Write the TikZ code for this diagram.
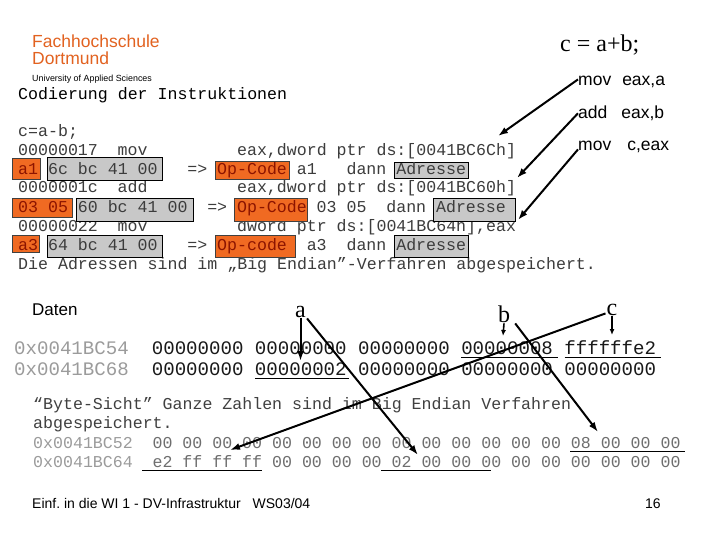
\documentclass[tikz,border=0pt]{standalone}
\usepackage{fontspec}
\setmainfont{Liberation Sans}
\newfontfamily\arial{Liberation Sans}
\newfontfamily\mono{Liberation Mono}
\newfontfamily\tms{Liberation Serif}
\usetikzlibrary{arrows.meta}
\definecolor{fhorange}{RGB}{226,98,32}
\definecolor{boxorange}{RGB}{240,106,34}
\definecolor{boxgray}{RGB}{200,200,200}
\definecolor{codec}{RGB}{60,60,60}
\definecolor{optext}{RGB}{140,20,0}
\definecolor{addrgray}{RGB}{155,155,155}
\definecolor{bytegray}{RGB}{110,110,110}
\def\cwa{9.95}
\def\mcw{11.47}
\frenchspacing
\begin{document}
\begin{tikzpicture}[x=1pt,y=-1pt,
  code/.style={anchor=base west, inner sep=0pt, text=codec, font=\mono\fontsize{16.6}{18}\selectfont},
  mem/.style={anchor=base west, inner sep=0pt, font=\mono\fontsize{19.1}{21}\selectfont},
  sans/.style={anchor=base west, inner sep=0pt},
  lbl/.style={anchor=base, inner sep=1pt, font=\tms\fontsize{24}{26}\selectfont},
  arr/.style={line width=2pt, -{Latex[length=10pt,width=7pt]}},
  sarr/.style={line width=1.6pt, -{Latex[length=6pt,width=5pt]}},
  obox/.style={fill=boxorange, draw=black!75, line width=0.8pt},
  gbox/.style={fill=boxgray, draw=black, line width=0.8pt},
  uline/.style={line width=1.2pt}]
\path[use as bounding box, fill=white] (0,0) rectangle (720,540);

% header
\node[sans, text=fhorange, font=\arial\fontsize{17.5}{18}\selectfont] (fh1) at (32,48) {Fachhochschule};
\node[sans, text=fhorange, font=\arial\fontsize{17.5}{18}\selectfont] (fh2) at (32,65) {Dortmund};
\node[sans, font=\arial\fontsize{8.9}{10}\selectfont] (uas) at (32,81.5) {University of Applied Sciences};
\node[anchor=base west, inner sep=0pt, font=\tms\fontsize{24}{26}\selectfont] (eq) at (560,52) {c = a+b;};
\node[sans, font=\arial\fontsize{17.5}{18}\selectfont] (r1) at (578,86) {mov\hspace{11pt}eax,a};
\node[sans, font=\arial\fontsize{17.5}{18}\selectfont] (r2) at (578,118.5) {add\hspace{14pt}eax,b};
\node[sans, font=\arial\fontsize{17.5}{18}\selectfont] (r3) at (578,151) {mov\hspace{16pt}c,eax};

% code lines
\node[code, text=black] (hd) at (18,100) {Codierung der Instruktionen};
\node[code] (l0) at (18,137) {c=a-b;};
\node[code] (l1a) at (18,156) {00000017};
\node[code] (l1b) at ({18+10*\cwa},156) {mov};
\node[code] (l1c) at ({18+22*\cwa},156) {eax,dword ptr ds:[0041BC6Ch]};
\node[code] (l2a) at (18,193) {0000001c};
\node[code] (l2b) at ({18+10*\cwa},193) {add};
\node[code] (l2c) at ({18+22*\cwa},193) {eax,dword ptr ds:[0041BC60h]};
\node[code] (l3a) at (18,231) {00000022};
\node[code] (l3b) at ({18+10*\cwa},231) {mov};
\node[code] (l3c) at ({18+22*\cwa},231) {dword ptr ds:[0041BC64h],eax};
\node[code] (l4) at (18,269) {Die Adressen sind im „Big Endian”-Verfahren abgespeichert.};

% row 1
\path[obox] (12,158) rectangle (40,179);
\path[gbox] (47,157) rectangle (162,180);
\path[obox] (215,161) rectangle (289,179);
\path[gbox] (394,162) rectangle (468,178);
\node[code, text=optext] (a1a) at (18,175) {a1};
\node[code] (a1b) at ({18+3*\cwa},175) {6c bc 41 00};
\node[code] (a1c) at ({18+17*\cwa},175) {=>};
\node[code, text=optext] (a1d) at ({18+20*\cwa},175) {Op-Code};
\node[code] (a1e) at ({18+28*\cwa},175) {a1};
\node[code] (a1f) at ({18+33*\cwa},175) {dann};
\node[code] (a1g) at ({18+38*\cwa},175) {Adresse};

% row 2
\path[obox] (12,198) rectangle (72,217);
\path[gbox] (76,198) rectangle (193,221);
\path[obox] (234,198) rectangle (307,221);
\path[gbox] (433,198) rectangle (515,221);
\node[code, text=optext] (a2a) at (18,212) {03 05};
\node[code] (a2b) at ({18+6*\cwa},212) {60 bc 41 00};
\node[code] (a2c) at ({18+19*\cwa},212) {=>};
\node[code, text=optext] (a2d) at ({18+22*\cwa},212) {Op-Code};
\node[code] (a2e) at ({18+30*\cwa},212) {03 05};
\node[code] (a2f) at ({18+37*\cwa},212) {dann};
\node[code] (a2g) at ({18+42*\cwa},212) {Adresse};

% row 3
\path[obox] (12,235) rectangle (39,252);
\path[gbox] (47,235) rectangle (162,257);
\path[obox] (215,235) rectangle (295,257);
\path[gbox] (394,235) rectangle (468,257);
\node[code, text=optext] (a3a) at (18,250) {a3};
\node[code] (a3b) at ({18+3*\cwa},250) {64 bc 41 00};
\node[code] (a3c) at ({18+17*\cwa},250) {=>};
\node[code, text=optext] (a3d) at ({18+20*\cwa},250) {Op-code};
\node[code] (a3e) at ({18+29*\cwa},250) {a3};
\node[code] (a3f) at ({18+33*\cwa},250) {dann};
\node[code] (a3g) at ({18+38*\cwa},250) {Adresse};

% top arrows
\coordinate (t1) at (498,136);
\coordinate (t2) at (517,178);
\coordinate (t3) at (518,220);
\draw[arr] ([yshift=3pt]r1.west) -- (t1);
\draw[arr] (r2.west) -- (t2);
\draw[arr] ([yshift=-2pt]r3.west) -- (t3);

% data section
\node[sans, font=\arial\fontsize{17}{18}\selectfont] (dat) at (32,315) {Daten};
\node[lbl] (la) at (300.5,317) {a};
\node[lbl] (lb) at (504,322) {b};
\node[lbl] (lc) at (612,315) {c};

\node[mem, text=addrgray] (ma1) at (14,354) {0x0041BC54};
\node[mem, text=black!90] (mv1) at ({14+12*\mcw},354) {00000000 00000000 00000000 00000008 ffffffe2};
\node[mem, text=addrgray] (ma2) at (14,375) {0x0041BC68};
\node[mem, text=black!90] (mv2) at ({14+12*\mcw},375) {00000000 00000002 00000000 00000000 00000000};
\draw[uline] ({14+39*\mcw},357.5) -- ({14+47.4*\mcw},357.5);
\draw[uline] ({14+48*\mcw},357.5) -- ({14+56.4*\mcw},357.5);
\draw[uline] ({14+21*\mcw},378.5) -- ({14+29.2*\mcw},378.5);

\node[code, text=black!75] (bs1) at (33,409) {“Byte-Sicht” Ganze Zahlen sind im Big Endian Verfahren};
\node[code, text=black!75] (bs2) at (33,428) {abgespeichert.};
\node[code, text=addrgray] (ba1) at (33,448.5) {0x0041BC52};
\node[code, text=bytegray] (bv1) at ({33+12*\cwa},448.5) {00 00 00 00 00 00 00 00 00 00 00 00 00 00 08 00 00 00};
\node[code, text=addrgray] (ba2) at (33,467.5) {0x0041BC64};
\node[code, text=bytegray] (bv2) at ({33+12*\cwa},467.5) {e2 ff ff ff 00 00 00 00 02 00 00 00 00 00 00 00 00 00};
\draw[uline] ({33+54*\cwa},451.5) -- ({33+65.5*\cwa},451.5);
\draw[uline] ({33+11*\cwa},470.5) -- ({33+23*\cwa},470.5);
\draw[uline] ({33+35*\cwa},470.5) -- ({33+46*\cwa},470.5);

% bottom arrows
\coordinate (ta1) at (300.5,361);
\coordinate (ta2) at (418,455);
\coordinate (tb1) at (503,336);
\coordinate (tb2) at (598,432);
\coordinate (tc1) at (612,335);
\coordinate (tc2) at (230,450);
\draw[arr] (la.south) -- (ta1);
\draw[arr] (la.south east) -- (ta2);
\draw[sarr] (lb.south) -- (tb1);
\draw[arr] ([xshift=4pt]lb.south east) -- (tb2);
\draw[sarr] (lc.south) -- (tc1);
\draw[arr] ([yshift=3pt]lc.south west) -- (tc2);

% footer
\node[sans, font=\arial\fontsize{14}{16}\selectfont] (ft) at (32,508) {Einf. in die WI 1 - DV-Infrastruktur\hspace{12pt}WS03/04};
\node[sans, font=\arial\fontsize{14}{16}\selectfont] (pg) at (645,508) {16};
\end{tikzpicture}
\end{document}
